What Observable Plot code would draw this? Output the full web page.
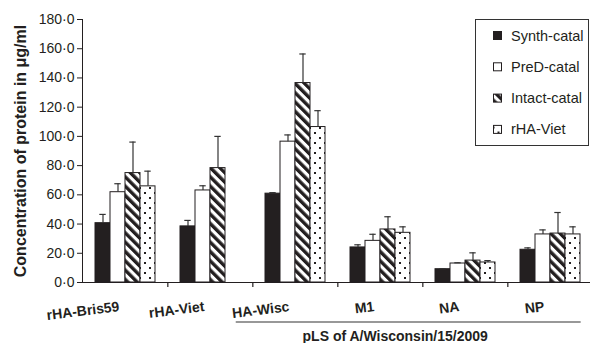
<!DOCTYPE html>
<html><head><meta charset="utf-8">
<script src="https://cdn.jsdelivr.net/npm/d3@7"></script>
<script src="https://cdn.jsdelivr.net/npm/@observablehq/plot@0.6"></script>
<style>
body{margin:0;background:#fff;}
#chart{position:relative;width:590px;height:343px;overflow:hidden;}
</style>
</head><body><div id="chart"></div>
<script>
// ---- data ----
const groups = ["rHA-Bris59", "rHA-Viet", "HA-Wisc", "M1", "NA", "NP"];
const series = ["Synth-catal", "PreD-catal", "Intact-catal", "rHA-Viet"];
const synthCatal  = [40.6, 38.4, 60.8, 24.0, 9.1, 22.4];
const synthErr    = [6.0, 4.1, 0.7, 1.8, 0.3, 1.3];
const predCatal   = [61.8, 63.0, 96.4, 28.5, 13.0, 32.9];
const predErr     = [5.8, 3.2, 4.6, 4.5, 0.5, 3.1];
const intactCatal = [74.9, 78.3, 136.5, 36.3, 15.0, 33.5];
const intactErr   = [21.2, 21.7, 19.9, 8.7, 5.3, 14.4];
const rhaViet     = [65.8, null, 106.4, 34.0, 13.7, 32.9];
const rhaVietErr  = [10.4, null, 11.2, 4.1, 1.3, 5.2];
const yTicks = [0, 20, 40, 60, 80, 100, 120, 140, 160, 180];
const yLabel = "Concentration of protein in μg/ml";
const bracketLabel = "pLS of A/Wisconsin/15/2009";
const bracketGroups = ["HA-Wisc", "M1", "NA", "NP"];

const valueSets = [synthCatal, predCatal, intactCatal, rhaViet];
const errSets = [synthErr, predErr, intactErr, rhaVietErr];
const rows = [];
groups.forEach((g, gi) => series.forEach((s, si) => {
  const v = valueSets[si][gi];
  if (v == null) return;
  rows.push({group: g, series: s, value: v, upper: v + errSets[si][gi]});
}));

const INK = "#231f20";
const fills = {"Synth-catal": INK, "PreD-catal": "#fff", "Intact-catal": "url(#hatch)", "rHA-Viet": "url(#dots)"};

const W = 590, H = 343, ML = 80, MR = -4, MT = 19, MB = 61;
const bw = (W - ML - MR) / groups.length;

const plot = Plot.plot({
  width: W, height: H,
  marginLeft: ML, marginRight: MR, marginTop: MT, marginBottom: MB,
  style: {fontFamily: "'Liberation Sans', Arial, sans-serif", fontSize: "14px", color: INK, background: "transparent", overflow: "visible"},
  fx: {domain: groups, padding: 0, axis: null},
  x: {domain: series, paddingInner: 0, paddingOuter: 0.74, axis: null},
  y: {domain: [0, 180], axis: null},
  marks: [
    Plot.axisY({ticks: yTicks, tickFormat: d => d.toFixed(1).replace(".", "·"), tickSize: 5, tickPadding: 3, label: null, fontSize: 14, stroke: INK}),
    Plot.frame({anchor: "left", facetAnchor: "left", stroke: INK}),
    Plot.text([yLabel], {frameAnchor: "left", facetAnchor: "left", rotate: -90, dx: -62, textAnchor: "middle", lineAnchor: "middle", fontWeight: "bold", fontSize: 16, fill: INK}),
    Plot.ruleY([0], {stroke: INK}),
    Plot.axisFx({anchor: "bottom", tickSize: 5, tickFormat: () => "", dx: bw / 2, stroke: INK, strokeWidth: 1.2, label: null}),
    Plot.barY(rows, {fx: "group", x: "series", y: "value", fill: d => fills[d.series], stroke: INK, strokeWidth: 1}),
    Plot.ruleX(rows, {fx: "group", x: "series", y1: "value", y2: "upper", stroke: "#333", strokeWidth: 1.2}),
    Plot.tickY(rows, {fx: "group", x: "series", y: "upper", insetLeft: 4.3, insetRight: 4.3, stroke: "#333", strokeWidth: 1.2})
  ]
});
document.getElementById("chart").appendChild(plot);

// patterns
const svg = d3.select(plot);
const defs = svg.insert("defs", ":first-child");
const hatch = defs.append("pattern").attr("id", "hatch").attr("patternUnits", "userSpaceOnUse")
  .attr("width", 6.6).attr("height", 6.6).attr("patternTransform", "rotate(-45)");
hatch.append("rect").attr("width", 6.6).attr("height", 6.6).attr("fill", "#fff");
hatch.append("rect").attr("width", 3.4).attr("height", 6.6).attr("fill", INK);
const dots = defs.append("pattern").attr("id", "dots").attr("patternUnits", "userSpaceOnUse")
  .attr("width", 10).attr("height", 10);
dots.append("rect").attr("width", 10).attr("height", 10).attr("fill", "#fff");
dots.append("rect").attr("x", 2).attr("y", 2).attr("width", 2).attr("height", 2).attr("fill", INK);
dots.append("rect").attr("x", 7).attr("y", 7).attr("width", 2).attr("height", 2).attr("fill", INK);

const fx = plot.scale("fx");

// slightly tilted group labels, placed through the fx scale
const labelG = svg.append("g").attr("class", "group-labels");
groups.forEach(g => {
  const lx = fx.apply(g) + bw / 2 - 5;
  const ly = H - MB + 29;
  labelG.append("text").attr("transform", `translate(${lx},${ly}) rotate(-7)`)
    .attr("text-anchor", "end").attr("font-weight", "bold").attr("font-size", 14)
    .attr("fill", INK).text(g);
});

// bracket under pLS groups
const bx1 = fx.apply(bracketGroups[0]) - bw * 0.19;
const bx2 = fx.apply(bracketGroups[bracketGroups.length - 1]) + bw * 0.86;
const by = H - MB + 40;
svg.append("line").attr("x1", bx1).attr("x2", bx2).attr("y1", by).attr("y2", by)
  .attr("stroke", "#333").attr("stroke-width", 1.2);
svg.append("text").attr("x", (bx1 + bx2) / 2 - 13).attr("y", by + 18.5)
  .attr("text-anchor", "middle").attr("font-weight", "bold").attr("font-size", 14)
  .attr("fill", INK).text(bracketLabel);

// legend inside plot
const lg = svg.append("g").attr("transform", "translate(475.5,19.5)").attr("text-anchor", "start");
lg.append("rect").attr("width", 113).attr("height", 126).attr("fill", "#fff").attr("stroke", "#333").attr("stroke-width", 1);
series.forEach((s, i) => {
  const cy = 16 + i * 31.3;
  lg.append("rect").attr("x", 18).attr("y", cy - 4).attr("width", 8).attr("height", 8)
    .attr("fill", fills[s]).attr("stroke", INK).attr("stroke-width", 1);
  lg.append("text").attr("x", 35.5).attr("y", cy).attr("dy", "0.35em").attr("text-anchor", "start")
    .attr("font-size", 14.5).attr("fill", INK).text(s);
});
</script>
</body></html>
